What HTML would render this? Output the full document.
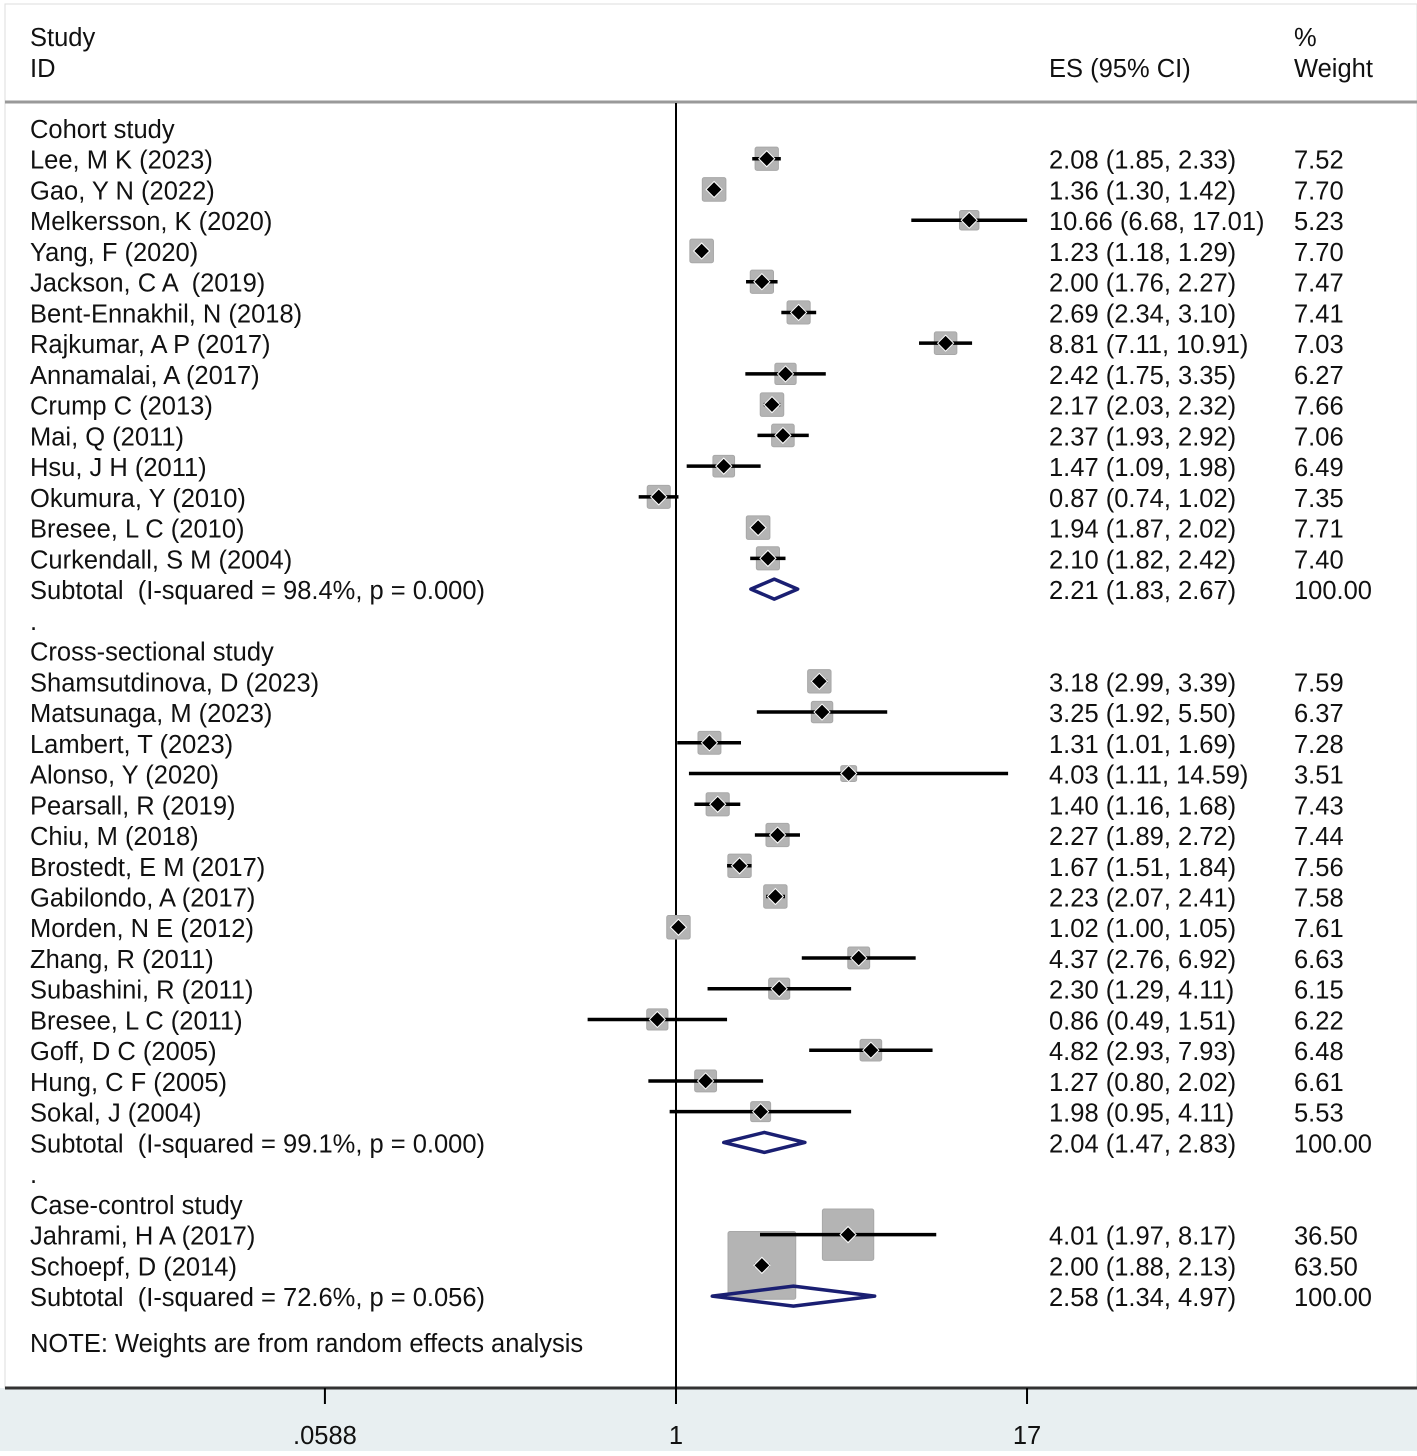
<!DOCTYPE html>
<html><head><meta charset="utf-8"><style>
html,body{margin:0;padding:0;background:#fff}
svg text{font-family:"Liberation Sans",Arial,sans-serif;font-size:25.5px;fill:#111;white-space:pre}
</style></head><body>
<svg id="chart" width="1417" height="1451" xmlns="http://www.w3.org/2000/svg">
<rect x="0" y="0" width="1417" height="1451" fill="#fff"/>
<rect x="0" y="1388" width="1417" height="63" fill="#e8eff1"/>
<rect x="5" y="4" width="1412" height="1384" fill="none" stroke="#ddd" stroke-width="1"/>
<line x1="5" y1="102" x2="1417" y2="102" stroke="#999" stroke-width="3"/>
<line x1="5" y1="1388" x2="1417" y2="1388" stroke="#333" stroke-width="3"/>
<text x="30" y="46">Study</text>
<text x="30" y="77">ID</text>
<text x="1049" y="77">ES (95% CI)</text>
<text x="1294" y="46">%</text>
<text x="1294" y="77">Weight</text>
<g id="plot"></g>
</svg>
<script>
const labels=["Cohort study","Lee, M K (2023)","Gao, Y N (2022)","Melkersson, K (2020)","Yang, F (2020)","Jackson, C A  (2019)","Bent-Ennakhil, N (2018)","Rajkumar, A P (2017)","Annamalai, A (2017)","Crump C (2013)","Mai, Q (2011)","Hsu, J H (2011)","Okumura, Y (2010)","Bresee, L C (2010)","Curkendall, S M (2004)","Subtotal  (I-squared = 98.4%, p = 0.000)",".","Cross-sectional study","Shamsutdinova, D (2023)","Matsunaga, M (2023)","Lambert, T (2023)","Alonso, Y (2020)","Pearsall, R (2019)","Chiu, M (2018)","Brostedt, E M (2017)","Gabilondo, A (2017)","Morden, N E (2012)","Zhang, R (2011)","Subashini, R (2011)","Bresee, L C (2011)","Goff, D C (2005)","Hung, C F (2005)","Sokal, J (2004)","Subtotal  (I-squared = 99.1%, p = 0.000)",".","Case-control study","Jahrami, H A (2017)","Schoepf, D (2014)","Subtotal  (I-squared = 72.6%, p = 0.056)"];
const types=["h","s","s","s","s","s","s","s","s","s","s","s","s","s","s","t","d","h","s","s","s","s","s","s","s","s","s","s","s","s","s","s","s","t","d","h","s","s","t"];
const es=[null,2.08,1.36,10.66,1.23,2.00,2.69,8.81,2.42,2.17,2.37,1.47,0.87,1.94,2.10,2.21,null,null,3.18,3.25,1.31,4.03,1.40,2.27,1.67,2.23,1.02,4.37,2.30,0.86,4.82,1.27,1.98,2.04,null,null,4.01,2.00,2.58];
const lo=[null,1.85,1.30,6.68,1.18,1.76,2.34,7.11,1.75,2.03,1.93,1.09,0.74,1.87,1.82,1.83,null,null,2.99,1.92,1.01,1.11,1.16,1.89,1.51,2.07,1.00,2.76,1.29,0.49,2.93,0.80,0.95,1.47,null,null,1.97,1.88,1.34];
const hi=[null,2.33,1.42,17.01,1.29,2.27,3.10,10.91,3.35,2.32,2.92,1.98,1.02,2.02,2.42,2.67,null,null,3.39,5.50,1.69,14.59,1.68,2.72,1.84,2.41,1.05,6.92,4.11,1.51,7.93,2.02,4.11,2.83,null,null,8.17,2.13,4.97];
const wt=[null,7.52,7.70,5.23,7.70,7.47,7.41,7.03,6.27,7.66,7.06,6.49,7.35,7.71,7.40,100,null,null,7.59,6.37,7.28,3.51,7.43,7.44,7.56,7.58,7.61,6.63,6.15,6.22,6.48,6.61,5.53,100,null,null,36.50,63.50,100];
const ticks=[0.0588,1,17];
const tickLabels=[".0588","1","17"];

const NS="http://www.w3.org/2000/svg";
const g=document.getElementById('plot');
const X=v=>676+Math.log(v)*123.9;
const Y=i=>129+i*30.74;
function el(t,a){const e=document.createElementNS(NS,t);for(const k in a)e.setAttribute(k,a[k]);g.appendChild(e);return e;}
const fmt=v=>v.toFixed(2);
const nl=el('line',{x1:X(1),y1:103,x2:X(1),y2:1388,stroke:'#000','stroke-width':2});


labels.forEach((l,i)=>{
  if(types[i]==='s'){
    const s=Math.sqrt(wt[i])*8.5, cx=X(es[i]), cy=Y(i)-1;
    const b=el('rect',{x:cx-s/2,y:cy-s/2,width:s,height:s,fill:'#b4b4b4',stroke:'#a8a8a8','stroke-width':1,rx:2});
    
    
  }
});
labels.forEach((l,i)=>{
  const y=Y(i);
  const t=el('text',{x:30,y:y+9});t.textContent=l;
  
  
  if(types[i]==='s'||types[i]==='t'){
    const e=el('text',{x:1049,y:y+9});e.textContent=fmt(es[i])+" ("+fmt(lo[i])+", "+fmt(hi[i])+")";
    
    
    const w=el('text',{x:1294,y:y+9});w.textContent=fmt(wt[i]);
    
    
  }
  const cy=y-1;
  if(types[i]==='s'){
    const ln=el('line',{x1:X(lo[i]),y1:cy,x2:X(hi[i]),y2:cy,stroke:'#000','stroke-width':3.5});
    
    
    const cx=X(es[i]);
    const p=el('polygon',{points:`${cx-8},${cy} ${cx},${cy-8} ${cx+8},${cy} ${cx},${cy+8}`,fill:'#000',stroke:'#fff','stroke-width':1});
    
    
  } else if(types[i]==='t'){
    const d=el('polygon',{points:`${X(lo[i])},${cy} ${X(es[i])},${cy-10} ${X(hi[i])},${cy} ${X(es[i])},${cy+10}`,fill:'none',stroke:'#1a1f72','stroke-width':3.5,'stroke-linejoin':'round'});
    
    
  }
});
const note=el('text',{x:30,y:1352});note.textContent="NOTE: Weights are from random effects analysis";


ticks.forEach((v,k)=>{
  const tk=el('line',{x1:X(v),y1:1388,x2:X(v),y2:1404,stroke:'#000','stroke-width':2});
  
  
  const tl=el('text',{x:X(v),y:1444,'text-anchor':'middle'});tl.textContent=tickLabels[k];
  
  
});
</script>
</body></html>
